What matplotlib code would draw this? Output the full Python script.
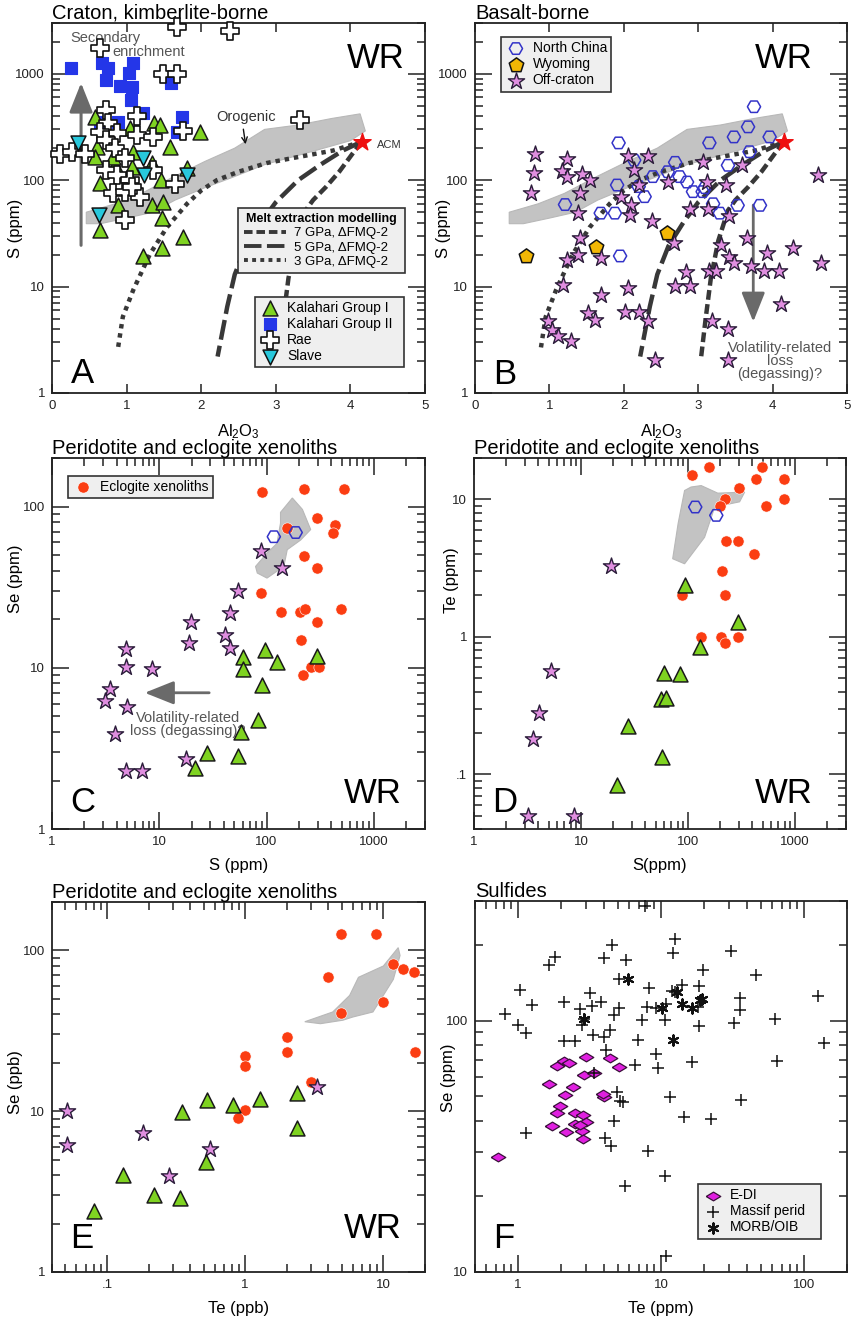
import matplotlib.pyplot as plt
import matplotlib.ticker as mticker
from matplotlib.lines import Line2D
import numpy as np

plt.rcParams['font.family'] = ['Liberation Sans', 'DejaVu Sans']
plt.rcParams['mathtext.default'] = 'regular'

# ---------------- panel A : craton, kimberlite-borne ----------------
kal1_al = [1.37, 1.45, 1.98, 1.05, 0.58, 0.60, 0.58, 1.09, 0.84, 1.07, 1.34, 1.58, 1.81, 0.64, 1.46, 0.88,
           1.34, 1.49, 1.47, 0.64, 1.76, 1.47, 1.22, 0.82]
kal1_s = [345, 330, 283, 310, 390, 204, 165, 185, 138, 133, 145, 204, 130, 94, 100, 58,
          58, 62, 44, 34, 29, 23, 19.5, 165]
kal2_al = [0.25, 0.67, 0.75, 1.09, 1.03, 0.73, 0.91, 1.07, 1.06, 1.59, 1.22, 0.64, 0.89, 1.74, 1.68]
kal2_s = [1130, 1260, 1130, 1260, 1020, 870, 760, 750, 565, 820, 425, 350, 350, 390, 283]
rae_al = [1.67, 2.39, 0.64, 1.49, 1.67, 0.72, 1.14, 0.75, 0.87, 0.64, 1.14, 1.36, 1.76, 3.32, 0.11,
          0.27, 0.44, 0.73, 0.84, 0.98, 0.73, 0.87, 1.36, 1.05, 1.65, 0.82, 0.98, 1.18, 0.98, 1.07]
rae_s = [2750, 2500, 1740, 1000, 1000, 455, 405, 345, 275, 283, 265, 255, 290, 365, 178,
         185, 178, 237, 200, 160, 124, 112, 124, 100, 93, 76, 78, 70, 42, 86]
slave_al = [0.35, 1.22, 1.23, 1.81, 0.63]
slave_s = [222, 160, 112, 112, 47]

# orogenic peridotite field (A and B)
oro_al = [0.46, 0.85, 1.2, 1.6, 2.05, 2.45, 2.85, 3.3, 3.75, 4.13, 4.2,
          4.0, 3.35, 2.85, 2.4, 2.05, 1.65, 1.35, 1.0, 0.65, 0.46]
oro_s = [50, 60, 75, 105, 150, 200, 300, 330, 380, 420, 290,
         235, 175, 140, 105, 85, 65, 50, 44, 39, 39]

# melt extraction models
acm = (4.15, 230)
m7_al = [4.15, 4.03, 3.85, 3.67, 3.5, 3.4, 3.27, 3.17, 3.1, 3.04]
m7_s = [230, 178, 120, 86, 65, 52, 27, 12, 5, 2.2]
m5_al = [4.15, 3.9, 3.6, 3.3, 3.0, 2.8, 2.6, 2.45, 2.35, 2.22]
m5_s = [230, 190, 140, 100, 62, 40, 24, 13, 6.5, 2.2]
m3_al = [4.15, 3.77, 3.3, 2.88, 2.5, 2.21, 2.0, 1.81, 1.54, 1.31, 1.09, 0.95, 0.88]
m3_s = [230, 190, 165, 145, 120, 100, 80, 60, 36, 20, 9.3, 5.2, 2.5]

# ---------------- panel B : basalt-borne ----------------
nc_al = [1.93, 2.14, 1.91, 1.21, 1.69, 1.88, 2.20, 2.28, 2.39, 2.59, 2.69, 2.75, 2.85, 2.93, 3.06, 3.09,
         3.15, 3.20, 3.29, 3.40, 3.48, 3.53, 3.67, 3.69, 3.75, 3.83, 3.96, 1.95]
nc_s = [224, 154, 90, 59, 49, 49, 87, 70, 108, 120, 147, 108, 96, 78, 78, 85,
        224, 60, 49, 138, 255, 58, 317, 185, 490, 58, 255, 19.4]
wy_al = [0.68, 1.62, 2.58]
wy_s = [19.4, 23.3, 32]
off_al = [0.81, 0.79, 0.75, 1.24, 1.17, 1.24, 1.44, 1.55, 1.41, 1.38, 1.41, 1.38, 1.24, 1.18, 1.70, 1.69,
          2.05, 2.14, 1.96, 2.10, 2.08, 2.21, 2.32, 2.38, 2.59, 2.67, 2.05, 2.69, 2.89, 2.84, 2.89, 3.06,
          3.12, 3.13, 3.37, 3.59, 3.42, 3.30, 3.41, 3.48, 3.65, 3.71, 3.15, 3.24, 3.93, 3.88, 4.08, 4.27,
          4.65, 4.61, 4.11, 0.98, 1.03, 1.11, 1.29, 1.52, 1.61, 2.02, 2.21, 2.32, 2.42, 3.18, 3.40, 3.40]
off_s = [175, 117, 76, 157, 122, 106, 115, 100, 76, 49, 28.4, 19.8, 17.7, 10.3, 18.5, 8.3,
         168, 124, 69, 58, 47, 90, 168, 41.5, 96, 25.8, 9.8, 10.1, 10.1, 13.8, 54, 148,
         96, 54, 91, 138, 46, 24.6, 18.8, 16.5, 28.4, 15.5, 14.1, 14, 20.9, 14, 14, 22.9,
         16.5, 112, 6.9, 4.8, 3.9, 3.4, 3.1, 5.6, 4.9, 5.8, 5.8, 4.8, 2.04, 4.8, 4.0, 2.04]

# ---------------- panel C : S vs Se ----------------
ecl_c_s = [90, 223, 525, 298, 436, 415, 156, 223, 293, 88, 135, 205, 227, 492, 298, 208, 220, 262, 309]
ecl_c_se = [123, 128, 128, 85, 77, 69, 74, 49, 41.5, 29.3, 22.2, 22.2, 23.2, 23.2, 19.2, 14.9, 9.0, 10.1, 10.1]
nc_c_s = [117, 187]
nc_c_se = [65, 69]
off_c_s = [88, 140, 54, 46, 19.8, 41, 18.8, 46, 4.9, 4.9, 8.5, 3.5, 3.1, 5.0, 3.9, 17.9, 4.9, 6.9]
off_c_se = [52.7, 41.5, 30, 22, 19.2, 16, 14.2, 13.2, 13.0, 10.1, 9.9, 7.4, 6.2, 5.7, 3.9, 2.7, 2.3, 2.3]
kal_c_s = [96, 60, 124, 293, 60, 91, 83, 58, 28, 54, 21.7]
kal_c_se = [12.9, 11.7, 10.9, 11.9, 9.8, 7.8, 4.75, 4.0, 2.95, 2.84, 2.38]
oro_c_s = [135, 174, 216, 258, 208, 156, 145, 101, 82, 79, 101, 125, 135]
oro_c_se = [92, 113, 96, 72, 62, 54, 42.5, 36, 38.7, 42.5, 51.4, 59, 79]

# ---------------- panel D : S vs Te ----------------
ecl_d_s = [156, 495, 109, 435, 783, 298, 220, 200, 789, 532, 225, 293, 414, 208, 220, 88, 133, 202, 293, 220]
ecl_d_te = [17.1, 17.1, 15.1, 14.0, 14.0, 12.0, 10.0, 9.0, 10, 9.0, 5.0, 5.0, 4.0, 3.0, 2.0, 2.0, 1.0, 1.0, 1.0, 0.9]
nc_d_s = [117, 184]
nc_d_te = [8.8, 7.65]
off_d_s = [18.9, 5.2, 4.05, 3.56, 3.2, 8.6]
off_d_te = [3.27, 0.56, 0.28, 0.18, 0.05, 0.05]
kal_d_s = [94, 293, 129, 60, 84, 56, 62, 27.5, 57, 21.8]
kal_d_te = [2.38, 1.29, 0.84, 0.55, 0.54, 0.354, 0.36, 0.226, 0.134, 0.083]
oro_d_s = [107, 133, 190, 339, 304, 178, 143, 93, 72, 81, 93]
oro_d_te = [12.3, 12.6, 11.1, 11.3, 9.6, 8.8, 5.3, 3.4, 3.7, 6.7, 11.6]

# ---------------- panel E : Te vs Se ----------------
ecl_e_te = [3.98, 10, 4.9, 2.0, 2.0, 1.0, 1.0, 2.97, 1.0, 0.89, 16.9, 11.8, 13.9, 16.7, 4.9, 8.8]
ecl_e_se = [68, 48, 41, 29, 23.2, 22, 19.1, 15.2, 10.1, 9.1, 23.2, 82, 77, 73, 126, 126]
off_e_te = [0.051, 0.051, 0.181, 0.28, 0.56, 3.3]
off_e_se = [10, 6.2, 7.3, 3.97, 5.8, 14.1]
kal_e_te = [0.081, 0.13, 0.218, 0.34, 0.35, 0.53, 0.52, 0.82, 1.29, 2.39, 2.39]
kal_e_se = [2.4, 4.0, 3.0, 2.88, 9.9, 11.8, 4.8, 11, 11.9, 13, 7.9]
oro_e_te = [2.7, 4.3, 5.7, 6.6, 10, 12.8, 13.2, 11.8, 8.4, 6.0, 5.1, 3.5]
oro_e_se = [36, 41.4, 52.5, 68, 80, 104, 93, 66, 41.4, 38.5, 36.8, 35]

# ---------------- panel F : sulfides ----------------
edi_te = [0.72, 1.88, 2.09, 2.27, 2.97, 4.43, 5.06, 2.88, 3.39, 1.64, 2.43, 2.13, 3.97, 3.9, 1.98,
          1.88, 2.52, 2.84, 2.97, 2.52, 1.73, 2.15, 2.8, 2.84, 2.7]
edi_se = [28.8, 66, 69, 68, 72, 71, 65.5, 60.6, 62, 56, 54.7, 50.7, 49.9, 51, 45.6,
          43, 43, 42, 39.7, 39, 38, 36, 36.5, 33.9, 38.5]
massif_te = [7.76, 12.6, 12.2, 4.54, 1.81, 1.64, 4.02, 5.72, 30.7, 19.8, 46.5, 5.06, 8.18, 11.9, 14,
             18.5, 1.04, 2.09, 1.26, 3.21, 3.83, 3.29, 2.73, 5.11, 7.96, 9.26, 10.8, 12.6, 7.35, 10.6,
             4.67, 2.88, 2.78, 0.81, 1.0, 1.13, 2.09, 2.5, 3.33, 3.97, 4.43, 4.12, 6.9, 9.26, 9.5,
             6.6, 3.39, 18.2, 18.5, 16.6, 32.5, 35.6, 35.6, 62.5, 126, 139, 65, 4.92, 5.2, 5.4,
             11.6, 14.4, 22.4, 36.2, 4.67, 1.14, 4.08, 4.5, 8.09, 10.6, 5.63, 10.8]
massif_se = [287, 211, 186, 200, 180, 166, 177, 175, 189, 160, 152, 147, 135, 131, 139,
             138, 132, 119, 116, 129, 119, 114, 111, 112, 113, 112, 117, 130, 101, 101,
             105, 102, 96, 106, 96, 89, 83, 83, 88, 86, 91.5, 76.6, 84, 73.6, 64.7,
             66.8, 62, 113, 95, 68.4, 98, 123, 110, 102, 126, 81.5, 69, 51.9, 47.8, 47.5,
             49.7, 41.3, 40.6, 48.2, 40, 35.7, 34.1, 31.6, 30.2, 24.1, 21.9, 11.6]
morb_te = [12.9, 10.1, 14, 16.4, 18.8, 19.5, 5.87, 12.2, 2.9]
morb_se = [130, 112, 117, 112, 121, 122, 146, 84, 102]

# marker styles
green_kw = dict(marker='^', s=115, c='#7fd321', edgecolors='#1a1a1a', linewidths=1.1, clip_on=False)
blue_kw = dict(marker='s', s=80, c='#2436e8', edgecolors='#2436e8', linewidths=0.8, clip_on=False)
rae_kw = dict(marker='P', s=170, c='white', edgecolors='#111111', linewidths=1.2, clip_on=False)
slave_kw = dict(marker='v', s=115, c='#28c8dc', edgecolors='#111111', linewidths=1.1, clip_on=False)
hex_kw = dict(marker='H', s=90, facecolors='none', edgecolors='#3333c8', linewidths=1.1, clip_on=False)
wy_kw = dict(marker='p', s=120, c='#f2b705', edgecolors='#111111', linewidths=1.1, clip_on=False)
star_kw = dict(marker='*', s=150, c='#e08ee0', edgecolors='#2b1d3a', linewidths=1.0, clip_on=False)
red_kw = dict(marker='o', s=65, c='#fb3d12', edgecolors='white', linewidths=0.4, clip_on=False)
field_kw = dict(facecolor='#c3c3c3', edgecolor='#b8b8b8', linewidth=0.8, zorder=1)
line_col = '#383838'

fig = plt.figure(figsize=(8.56, 13.21), dpi=100)


def short_num(v, pos=None):
    if 0 < v < 1:
        return ('%g' % v).lstrip('0')
    return '%g' % v


def setup(ax, xlim, ylim, xmajor, ymajor, xlog=True):
    ax.set_yscale('log')
    if xlog:
        ax.set_xscale('log')
    ax.set_xlim(*xlim)
    ax.set_ylim(*ylim)
    fmt = mticker.FuncFormatter(short_num)
    ax.xaxis.set_major_locator(mticker.FixedLocator(xmajor))
    ax.yaxis.set_major_locator(mticker.FixedLocator(ymajor))
    ax.xaxis.set_major_formatter(fmt)
    ax.yaxis.set_major_formatter(fmt)
    ax.yaxis.set_minor_locator(mticker.LogLocator(base=10, subs=np.arange(2, 10), numticks=30))
    ax.yaxis.set_minor_formatter(mticker.NullFormatter())
    if xlog:
        ax.xaxis.set_minor_locator(mticker.LogLocator(base=10, subs=np.arange(2, 10), numticks=30))
        ax.xaxis.set_minor_formatter(mticker.NullFormatter())
    ax.tick_params(which='both', direction='in', top=True, right=True, width=1.1,
                   labelsize=9.5, pad=5, colors='#222222')
    ax.tick_params(which='major', length=12)
    ax.tick_params(which='minor', length=6)
    if not xlog:
        ax.tick_params(axis='x', which='major', length=6.5)
    for sp in ax.spines.values():
        sp.set_linewidth(1.3)
        sp.set_color('#222222')


def style_legend(leg):
    fr = leg.get_frame()
    fr.set_facecolor('#efefef')
    fr.set_edgecolor('#333333')
    fr.set_linewidth(1.2)
    fr.set_alpha(1)


def tag(ax, letter, ly, wr_y=None, wr_x=0.945):
    ax.text(0.05, ly, letter, transform=ax.transAxes, fontsize=25, va='baseline', ha='left')
    if wr_y is not None:
        ax.text(wr_x, wr_y, 'WR', transform=ax.transAxes, fontsize=25, va='baseline', ha='right')


def labels(ax, title, xl, yl, ycoord, ypos=0.5):
    ax.set_title(title, loc='left', fontsize=14.5, pad=3)
    ax.set_xlabel(xl, fontsize=12)
    ax.set_ylabel(yl, fontsize=12)
    ax.xaxis.set_label_coords(0.5, -0.078)
    ax.yaxis.set_label_coords(ycoord, ypos)


leg_kw = dict(loc='upper left', mode='expand', fontsize=10, fancybox=False, borderaxespad=0,
              labelspacing=0.15, borderpad=0.3, handletextpad=0.4, handlelength=1.6, scatterpoints=1)

# ================= A =================
axA = fig.add_axes([0.0607, 0.7025, 0.4358, 0.2801])
setup(axA, (0, 5), (1, 3000), [0, 1, 2, 3, 4, 5], [1, 10, 100, 1000], xlog=False)
axA.fill(oro_al, oro_s, **field_kw)
axA.plot(m7_al, m7_s, color=line_col, lw=3.2, ls=(0, (2.2, 1.0)), dash_capstyle='butt', zorder=2)
axA.plot(m5_al, m5_s, color=line_col, lw=3.2, ls=(0, (4.5, 1.4)), dash_capstyle='butt', zorder=2)
axA.plot(m3_al, m3_s, color=line_col, lw=3.2, ls=(0, (1.0, 1.1)), dash_capstyle='butt', zorder=2)
axA.annotate('', xy=(0.39, 870), xytext=(0.39, 23),
             arrowprops=dict(arrowstyle='-|>,head_length=1.0,head_width=0.4', color='#6a6a6a', lw=2.2,
                             mutation_scale=18), zorder=2)
hb = axA.scatter(kal2_al, kal2_s, zorder=3, **blue_kw)
hg = axA.scatter(kal1_al, kal1_s, zorder=3, **green_kw)
hr = axA.scatter(rae_al, rae_s, zorder=4, **rae_kw)
hs = axA.scatter(slave_al, slave_s, zorder=5, **slave_kw)
axA.scatter([acm[0]], [acm[1]], marker='*', s=170, c='#ee1111', zorder=6, clip_on=False)
axA.text(4.35, 215, 'ACM', fontsize=8, va='center', ha='left', color='#333333')
axA.text(0.72, 2150, 'Secondary', fontsize=10.5, ha='center', va='center', color='#555555')
axA.text(1.29, 1600, 'enrichment', fontsize=10.5, ha='center', va='center', color='#555555')
axA.text(2.6, 390, 'Orogenic', fontsize=10.5, ha='center', va='center', color='#333333')
axA.annotate('', xy=(2.6, 205), xytext=(2.56, 320),
             arrowprops=dict(arrowstyle='->', color='#111111', lw=1.0))

model_handles = [Line2D([], [], color=line_col, lw=2.8, ls=(0, (2.2, 1.0))),
                 Line2D([], [], color=line_col, lw=2.8, ls=(0, (4.5, 1.4))),
                 Line2D([], [], color=line_col, lw=2.8, ls=(0, (1.0, 1.1)))]
leg1 = axA.legend(model_handles, ['7 GPa, \u0394FMQ-2', '5 GPa, \u0394FMQ-2', '3 GPa, \u0394FMQ-2'],
                  title='Melt extraction modelling', title_fontproperties={'weight': 'bold', 'size': 9},
                  loc='upper left', bbox_to_anchor=(0.50, 0.286, 0.446, 0.214), mode='expand',
                  fontsize=9.5, fancybox=False, borderaxespad=0, handlelength=3.2,
                  labelspacing=0.15, borderpad=0.4, handletextpad=0.6)
style_legend(leg1)
leg1.set_zorder(7)
axA.add_artist(leg1)
leg2 = axA.legend([hg, hb, hr, hs], ['Kalahari Group I', 'Kalahari Group II', 'Rae', 'Slave'],
                  bbox_to_anchor=(0.544, 0.049, 0.40, 0.211), **leg_kw)
style_legend(leg2)
leg2.set_zorder(7)
tag(axA, 'A', 0.027, 0.878)
labels(axA, 'Craton, kimberlite-borne', '$Al_2O_3$', 'S (ppm)', -0.078, 0.446)

# ================= B =================
axB = fig.add_axes([0.5549, 0.7025, 0.4346, 0.2801])
setup(axB, (0, 5), (1, 3000), [0, 1, 2, 3, 4, 5], [1, 10, 100, 1000], xlog=False)
axB.fill(oro_al, oro_s, **field_kw)
axB.plot(m7_al, m7_s, color=line_col, lw=3.2, ls=(0, (2.2, 1.0)), dash_capstyle='butt', zorder=2)
axB.plot(m5_al, m5_s, color=line_col, lw=3.2, ls=(0, (4.5, 1.4)), dash_capstyle='butt', zorder=2)
axB.plot(m3_al, m3_s, color=line_col, lw=3.2, ls=(0, (1.0, 1.1)), dash_capstyle='butt', zorder=2)
axB.annotate('', xy=(3.74, 4.4), xytext=(3.74, 62),
             arrowprops=dict(arrowstyle='-|>,head_length=1.0,head_width=0.4', color='#6a6a6a', lw=2.0,
                             mutation_scale=18), zorder=2)
hn = axB.scatter(nc_al, nc_s, zorder=3, **hex_kw)
hw = axB.scatter(wy_al, wy_s, zorder=3, **wy_kw)
ho = axB.scatter(off_al, off_s, zorder=4, **star_kw)
axB.scatter([acm[0]], [acm[1]], marker='*', s=170, c='#ee1111', zorder=6, clip_on=False)
axB.text(4.10, 2.0, 'Volatility-related\nloss\n(degassing)?', fontsize=10.5, ha='center', va='center',
         color='#555555', linespacing=0.95)
legB = axB.legend([hn, hw, ho], ['North China', 'Wyoming', 'Off-craton'],
                  bbox_to_anchor=(0.069, 0.805, 0.297, 0.157), **leg_kw)
style_legend(legB)
tag(axB, 'B', 0.024, 0.878, wr_x=0.909)
labels(axB, 'Basalt-borne', '$Al_2O_3$', 'S (ppm)', -0.065, 0.446)

# ================= C =================
axC = fig.add_axes([0.0607, 0.3724, 0.4358, 0.2809])
setup(axC, (1, 3000), (1, 200), [1, 10, 100, 1000], [1, 10, 100])
axC.fill(oro_c_s, oro_c_se, **field_kw)
axC.annotate('', xy=(6.9, 7.0), xytext=(31, 7.0),
             arrowprops=dict(arrowstyle='-|>,head_length=1.0,head_width=0.4', color='#6a6a6a', lw=2.0,
                             mutation_scale=18), zorder=2)
axC.text(18.5, 4.45, 'Volatility-related\nloss (degassing)?', fontsize=10.5, ha='center', va='center',
         color='#555555', linespacing=0.95)
he = axC.scatter(ecl_c_s, ecl_c_se, zorder=3, **red_kw)
axC.scatter(nc_c_s, nc_c_se, zorder=3, **hex_kw)
axC.scatter(off_c_s, off_c_se, zorder=4, **star_kw)
axC.scatter(kal_c_s, kal_c_se, zorder=4, **green_kw)
legC = axC.legend([he], ['Eclogite xenoliths'], bbox_to_anchor=(0.042, 0.898, 0.389, 0.054), **leg_kw)
style_legend(legC)
tag(axC, 'C', 0.046, 0.07, wr_x=0.938)
labels(axC, 'Peridotite and eclogite xenoliths', 'S (ppm)', 'Se (ppm)', -0.078, 0.674)

# ================= D =================
axD = fig.add_axes([0.5537, 0.3724, 0.4346, 0.2809])
setup(axD, (1, 3000), (0.04, 20), [1, 10, 100, 1000], [0.1, 1, 10])
axD.fill(oro_d_s, oro_d_te, **field_kw)
axD.scatter(ecl_d_s, ecl_d_te, zorder=3, **red_kw)
axD.scatter(nc_d_s, nc_d_te, zorder=3, **hex_kw)
axD.scatter(off_d_s, off_d_te, zorder=4, **star_kw)
axD.scatter(kal_d_s, kal_d_te, zorder=4, **green_kw)
tag(axD, 'D', 0.046, 0.07, wr_x=0.91)
labels(axD, 'Peridotite and eclogite xenoliths', 'S(ppm)', 'Te (ppm)', -0.04, 0.671)

# ================= E =================
axE = fig.add_axes([0.0607, 0.0371, 0.4358, 0.2801])
setup(axE, (0.04, 20), (1, 200), [0.1, 1, 10], [1, 10, 100])
axE.fill(oro_e_te, oro_e_se, **field_kw)
axE.scatter(ecl_e_te, ecl_e_se, zorder=3, **red_kw)
axE.scatter(off_e_te, off_e_se, zorder=4, **star_kw)
axE.scatter(kal_e_te, kal_e_se, zorder=4, **green_kw)
tag(axE, 'E', 0.065, 0.092, wr_x=0.938)
labels(axE, 'Peridotite and eclogite xenoliths', 'Te (ppb)', 'Se (ppb)', -0.078, 0.514)

# ================= F =================
axF = fig.add_axes([0.5549, 0.0371, 0.4346, 0.2809])
setup(axF, (0.5, 200), (10, 300), [1, 10, 100], [10, 100])
diamond = [(-1, 0), (0, 0.6), (1, 0), (0, -0.6), (-1, 0)]
hd = axF.scatter(edi_te, edi_se, marker=diamond, s=110, c='#e020e0', edgecolors='#3a103a',
                 linewidths=0.9, zorder=3, clip_on=False)
hp = axF.scatter(massif_te, massif_se, marker='+', s=70, c='#111111', linewidths=1.1, zorder=4,
                 clip_on=False)
hm = axF.scatter(morb_te, morb_se, marker=(6, 2, 0), s=55, c='#111111', linewidths=1.5, zorder=4,
                 clip_on=False)
legF = axF.legend([hd, hp, hm], ['E-DI', 'Massif perid', 'MORB/OIB'],
                  bbox_to_anchor=(0.60, 0.075, 0.331, 0.162), **leg_kw)
style_legend(legF)
tag(axF, 'F', 0.065)
labels(axF, 'Sulfides', 'Te (ppm)', 'Se (ppm)', -0.051, 0.523)

fig.savefig('out.png', dpi=100)
